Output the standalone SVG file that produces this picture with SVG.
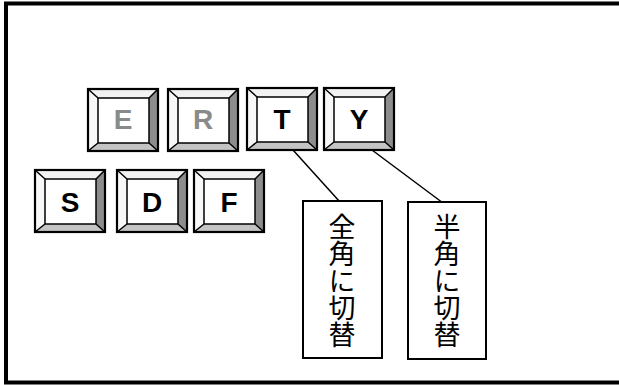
<svg xmlns="http://www.w3.org/2000/svg" width="619" height="385" viewBox="0 0 619 385">
<style>
.frame{fill:none;stroke:#000;stroke-width:4}
.tb{fill:#f2f2f2}.lb{fill:#f8f8f8}.rb{fill:#8c8c8c}.bb{fill:#c4c4c4}
.face{fill:#fff}
.ln{fill:none;stroke:#000;stroke-width:1.5}
.out{fill:none;stroke:#000;stroke-width:2.2}
.lbl{font-family:"Liberation Sans",Arial,sans-serif;font-weight:bold;font-size:28px;text-anchor:middle;fill:#000}
.dis .ln,.dis .out{stroke:#8a8a8a}
.dis .lbl{fill:#8a8a8a}
.dis .rb{fill:#a8a8a8}.dis .bb{fill:#cccccc}
.box{fill:#fff;stroke:#000;stroke-width:2}
.conn{stroke:#000;stroke-width:1.5;fill:none}
.vt{font-family:"Noto Sans CJK JP","Noto Sans CJK SC",sans-serif;font-size:27px;writing-mode:vertical-rl;text-anchor:middle;fill:#000}
</style>
<defs>
<g id="key">
<rect class="face" x="10" y="9" width="51" height="45"/>
<polygon class="tb" points="0,0 70,0 61,9 10,9"/>
<polygon class="lb" points="0,0 10,9 10,54 0,62"/>
<polygon class="rb" points="70,0 70,62 61,54 61,9"/>
<polygon class="bb" points="0,62 10,54 61,54 70,62"/>
<rect class="ln" x="10" y="9" width="51" height="45"/>
<path class="ln" d="M0,0L10,9M70,0L61,9M0,62L10,54M70,62L61,54"/>
<rect class="out" x="0" y="0" width="70" height="62"/>
</g>
</defs>
<rect class="frame" x="6" y="3.5" width="640" height="379"/>
<g id="key-E" class="dis" transform="translate(88,89)"><use href="#key"/><text class="lbl" x="35" y="40">E</text></g>
<g id="key-R" class="dis" transform="translate(168,89)"><use href="#key"/><text class="lbl" x="35" y="40">R</text></g>
<g id="key-T" transform="translate(247,88)"><use href="#key"/><text class="lbl" x="35" y="41">T</text></g>
<g id="key-Y" transform="translate(324,88)"><use href="#key"/><text class="lbl" x="35" y="41">Y</text></g>
<g id="key-S" transform="translate(35,170)"><use href="#key"/><text class="lbl" x="35" y="42">S</text></g>
<g id="key-D" transform="translate(117,170)"><use href="#key"/><text class="lbl" x="35" y="42">D</text></g>
<g id="key-F" transform="translate(194,170)"><use href="#key"/><text class="lbl" x="35" y="42">F</text></g>
<g id="connectors">
<line class="conn" x1="293" y1="150" x2="340" y2="202"/>
<line class="conn" x1="372" y1="150" x2="443" y2="203"/>
</g>
<g id="label-zenkaku"><rect class="box" x="303" y="201" width="79" height="157"/><text class="vt" x="342" y="281">全角に切替</text></g>
<g id="label-hankaku"><rect class="box" x="408" y="202" width="78" height="157"/><text class="vt" x="447" y="281">半角に切替</text></g>
</svg>
